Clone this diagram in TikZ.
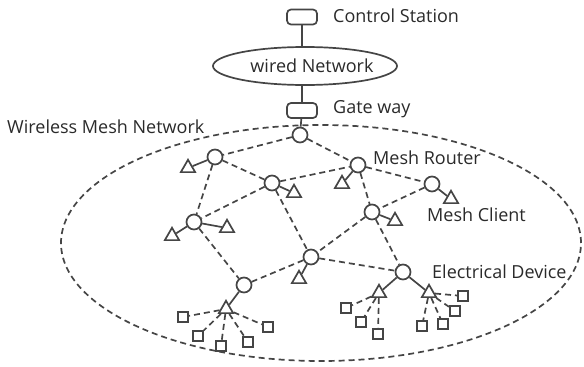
\documentclass[tikz,border=0pt]{standalone}
\usepackage{fontspec}
\setmainfont{Open Sans}
\usetikzlibrary{shapes.geometric}
\definecolor{ln}{HTML}{454545}
\definecolor{tx}{HTML}{2A2A2A}
\tikzset{
  router/.style={circle,draw=ln,line width=1.7pt,fill=white,minimum size=15pt,inner sep=0pt},
  client/.style={regular polygon,regular polygon sides=3,draw=ln,line width=1.7pt,fill=white,minimum size=16.5pt,inner sep=0pt},
  device/.style={rectangle,draw=ln,line width=1.7pt,fill=white,minimum width=10.5pt,minimum height=9.5pt,inner sep=0pt},
  station/.style={rectangle,rounded corners=4pt,draw=ln,line width=1.7pt,fill=white,minimum width=30pt,minimum height=15pt,inner sep=0pt},
  link/.style={draw=ln,line width=1.7pt,dash pattern=on 6pt off 4pt},
  wire/.style={draw=ln,line width=1.7pt},
  lbl/.style={anchor=base west,inner sep=0pt,text=tx,font=\fontsize{18}{21}\selectfont}
}
\begin{document}
\begin{tikzpicture}[x=1pt,y=-1pt]
\useasboundingbox (0,0) rectangle (584,367);
% big dashed ellipse
\draw[link] (321,243) ellipse [x radius=260pt, y radius=118pt];
% top part
\node[station] (CS) at (302,17) {};
\node[ellipse,draw=ln,line width=1.7pt,fill=white,minimum width=184pt,minimum height=38pt,inner sep=0pt] (WN) at (305,66) {};
\node[inner sep=0pt,anchor=base,text=tx,font=\fontsize{18}{21}\selectfont] (WT) at (312,72) {wired Network};
\node[station] (GW) at (302,110.5) {};
\node[router] (G) at (300,135) {};
\draw[wire] (CS) -- (CS|-WN.north);
\draw[wire] (GW|-WN.south) -- (GW);
\draw[wire] (GW) -- (G);
% routers
\node[router] (R1) at (215,157) {};
\node[router] (R2) at (272,183) {};
\node[router] (R3) at (358,165) {};
\node[router] (R4) at (432,184) {};
\node[router] (R5) at (194,222) {};
\node[router] (R6) at (372,212) {};
\node[router] (R7) at (311,257) {};
\node[router] (R8) at (244,285) {};
\node[router] (R9) at (403,272) {};
% clients
\node[client] (T1) at (188,168) {};
\node[client] (T2) at (294,193) {};
\node[client] (T3) at (342,184) {};
\node[client] (T4) at (451,199) {};
\node[client] (T5a) at (172,236) {};
\node[client] (T5b) at (227,228) {};
\node[client] (T6) at (395,221) {};
\node[client] (T7) at (299,279) {};
\node[client] (T8) at (226,309) {};
\node[client] (T9a) at (379,293) {};
\node[client] (T9b) at (429,293) {};
% devices
\node[device] (D1) at (183,317) {};
\node[device] (D2) at (198,336) {};
\node[device] (D3) at (221,346) {};
\node[device] (D4) at (248,342) {};
\node[device] (D5) at (268,327) {};
\node[device] (D6) at (346,308) {};
\node[device] (D7) at (361,322) {};
\node[device] (D8) at (378,334) {};
\node[device] (D9) at (463,296) {};
\node[device] (D10) at (455,311) {};
\node[device] (D11) at (443,324) {};
\node[device] (D12) at (422,326) {};
% mesh links
\foreach \a/\b in {G/R1,G/R3,R1/R2,R1/R5,R2/R3,R2/R5,R2/R7,R3/R4,R3/R6,R4/R6,R5/R8,R6/R7,R6/R9,R7/R8,R7/R9}
  \draw[link] (\a) -- (\b);
% router to client
\foreach \a/\b in {R1/T1,R2/T2,R3/T3,R4/T4,R5/T5a,R5/T5b,R6/T6,R7/T7,R8/T8,R9/T9a,R9/T9b}
  \draw[wire] (\a) -- (\b);
% client to device
\foreach \a/\b in {T8/D1,T8/D2,T8/D3,T8/D4,T8/D5,T9a/D6,T9a/D7,T9a/D8,T9b/D9,T9b/D10,T9b/D11,T9b/D12}
  \draw[link] (\a) -- (\b);
% labels
\node[lbl] (L1) at (333,22) {Control Station};
\node[lbl] (L2) at (333,113) {Gate way};
\node[lbl] (L3) at (7,133) {Wireless Mesh Network};
\node[lbl] (L4) at (373,164) {Mesh Router};
\node[lbl] (L5) at (427,221) {Mesh Client};
\node[lbl] (L6) at (432,278) {Electrical Device};
\end{tikzpicture}
\end{document}
